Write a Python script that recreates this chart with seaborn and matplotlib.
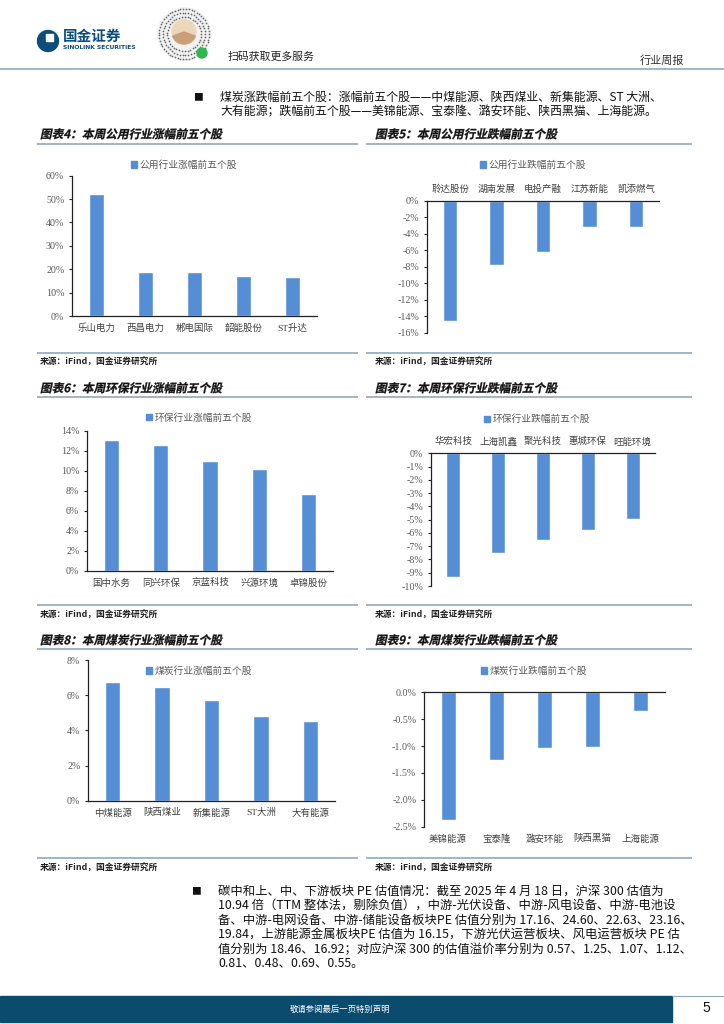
import matplotlib
matplotlib.use("Agg")
import matplotlib.pyplot as plt
from matplotlib.patches import Patch, Rectangle, Circle, Wedge, PathPatch
from matplotlib.textpath import TextPath
from matplotlib.font_manager import FontProperties
from matplotlib.transforms import Affine2D
import numpy as np
import pandas as pd
import seaborn as sns

W, H = 724, 1024
BAR = "#558ED5"
RULE = "#8FA9BC"
CJK = ["Noto Sans CJK SC", "DejaVu Sans"]
NUM = ["Liberation Serif", "Noto Sans CJK SC"]

# chart data (percent change of the week)
util_up_names = ["乐山电力", "西昌电力", "郴电国际", "韶能股份", "ST升达"]
util_up_pct = [52.3, 18.8, 18.7, 17.0, 16.8]
util_down_names = ["聆达股份", "湖南发展", "电投产融", "江苏新能", "凯添燃气"]
util_down_pct = [-14.6, -7.8, -6.2, -3.2, -3.2]
env_up_names = ["国中水务", "同兴环保", "京蓝科技", "兴源环境", "卓锦股份"]
env_up_pct = [13.1, 12.6, 11.0, 10.2, 7.7]
env_down_names = ["华宏科技", "上海凯鑫", "聚光科技", "惠城环保", "旺能环境"]
env_down_pct = [-9.35, -7.5, -6.55, -5.75, -4.95]
coal_up_names = ["中煤能源", "陕西煤业", "新集能源", "ST大洲", "大有能源"]
coal_up_pct = [6.77, 6.48, 5.71, 4.82, 4.51]
coal_down_names = ["美锦能源", "宝泰隆", "潞安环能", "陕西黑猫", "上海能源"]
coal_down_pct = [-2.37, -1.26, -1.04, -1.02, -0.34]

util_up_ticks = [0, 10, 20, 30, 40, 50, 60]
util_down_ticks = [0, -2, -4, -6, -8, -10, -12, -14, -16]
env_up_ticks = [0, 2, 4, 6, 8, 10, 12, 14]
env_down_ticks = [0, -1, -2, -3, -4, -5, -6, -7, -8, -9, -10]
coal_up_ticks = [0, 2, 4, 6, 8]
coal_down_ticks = [0.0, -0.5, -1.0, -1.5, -2.0, -2.5]

titles = [
    "图表4：本周公用行业涨幅前五个股", "图表5：本周公用行业跌幅前五个股",
    "图表6：本周环保行业涨幅前五个股", "图表7：本周环保行业跌幅前五个股",
    "图表8：本周煤炭行业涨幅前五个股", "图表9：本周煤炭行业跌幅前五个股",
]
legend_labels = [
    "公用行业涨幅前五个股", "公用行业跌幅前五个股",
    "环保行业涨幅前五个股", "环保行业跌幅前五个股",
    "煤炭行业涨幅前五个股", "煤炭行业跌幅前五个股",
]
source = "来源：iFind，国金证券研究所"

top_lines = [
    "煤炭涨跌幅前五个股：涨幅前五个股——中煤能源、陕西煤业、新集能源、ST 大洲、",
    "大有能源；跌幅前五个股——美锦能源、宝泰隆、潞安环能、陕西黑猫、上海能源。",
]
bottom_lines = [
    "碳中和上、中、下游板块 PE 估值情况：截至 2025 年 4 月 18 日，沪深 300 估值为",
    "10.94 倍（TTM 整体法，剔除负值），中游-光伏设备、中游-风电设备、中游-电池设",
    "备、中游-电网设备、中游-储能设备板块PE 估值分别为 17.16、24.60、22.63、23.16、",
    "19.84，上游能源金属板块PE 估值为 16.15，下游光伏运营板块、风电运营板块 PE 估",
    "值分别为 18.46、16.92；对应沪深 300 的估值溢价率分别为 0.57、1.25、1.07、1.12、",
    "0.81、0.48、0.69、0.55。",
]

sns.set_theme(style="white")
plt.rcParams["font.family"] = CJK
plt.rcParams["axes.unicode_minus"] = False

fig = plt.figure(figsize=(W / 100, H / 100), dpi=100)
fig.patch.set_facecolor("white")

# page layer in pixel coordinates
bg = fig.add_axes([0, 0, 1, 1])
bg.set_xlim(0, W)
bg.set_ylim(H, 0)
bg.axis("off")


def hline(y, x0, x1, color=RULE, lw=1.2):
    bg.plot([x0, x1], [y, y], color=color, lw=lw, solid_capstyle="butt")


def italic_title(x, y, s, size):
    # bold CJK with a slant, like the report's italic headings
    prop = FontProperties(family="Noto Sans CJK SC", weight="bold")
    tp = TextPath((0, 0), s, size=size, prop=prop)
    k = 100 / 72
    tr = Affine2D().skew_deg(12, 0).scale(k, -k).translate(x, y + 0.36 * size * k)
    bg.add_patch(PathPatch(tr.transform_path(tp), facecolor="#111111", edgecolor="#111111",
                           lw=0.2))


# header
bg.add_patch(Circle((48, 41), 10.5, color="#0D4D7A"))
bg.add_patch(Rectangle((46, 34), 7, 7, color="white"))
bg.text(63, 36, "国金证券", fontsize=10.5, fontweight="bold", color="#0D4D7A", va="center")
bg.text(63, 47.5, "SINOLINK SECURITIES", fontsize=4.3, fontweight="bold", color="#0D4D7A",
        va="center", family=["DejaVu Sans"])
bg.add_patch(Circle((184, 34), 27, facecolor="#f2f2f2", edgecolor="none"))
for r in [25, 21, 17]:
    ang = np.linspace(0, 2 * np.pi, int(r * 2.2), endpoint=False)
    bg.scatter(184 + r * np.cos(ang), 34 + r * np.sin(ang), s=1.6, color="#6b6b6b", lw=0)
bg.add_patch(Circle((184, 32), 12, color="#ecd7bd"))
bg.add_patch(Wedge((184, 32), 12, 20, 160, color="#c89f78"))
bg.add_patch(Circle((202, 53), 5, color="#2DB84C"))
bg.text(228, 57, "扫码获取更多服务", fontsize=7.8, color="#222222", va="center")
bg.text(662, 61, "行业周报", fontsize=8, color="#333333", va="center", ha="center")
hline(69, 0, W)

# top paragraph
bg.text(198, 97, "■", fontsize=7, va="center", ha="center", color="#111111")
for i, line in enumerate(top_lines):
    bg.text(220, 97 + 15 * i, line, fontsize=8.6, va="center", color="#111111")

# chart frames: titles, rules, sources
for col, x0, x1, tx in [(0, 37, 358, 40), (1, 366, 692, 375)]:
    for row, (ty, uy, sy, sty) in enumerate([(134, 143.5, 352.7, 362),
                                             (388, 397, 605, 615),
                                             (640, 649, 858, 868)]):
        italic_title(tx, ty, titles[row * 2 + col], 8.4)
        hline(uy, x0, x1)
        hline(sy, x0, x1)
        bg.text(tx, sty, source, fontsize=6.3, fontweight="bold", va="center",
                color="#222222")


def bar_chart(box, names, vals, ticks, fmt, label, legend_xy, label_side):
    left, top, right, bottom = box
    ax = fig.add_axes([left / W, 1 - bottom / H, (right - left) / W, (bottom - top) / H])
    df = pd.DataFrame({"name": names, "pct": vals})
    sns.barplot(data=df, x="name", y="pct", color=BAR, saturation=1, width=0.31,
                ax=ax, errorbar=None)
    ax.set_xlim(-0.5, 4.5)
    ax.set_ylim(min(ticks), max(ticks))
    ax.set_yticks(ticks)
    ax.set_yticklabels([fmt.format(t) for t in ticks], family=NUM, fontsize=7.2,
                       color="#595959")
    ax.set_xlabel("")
    ax.set_ylabel("")
    ax.set_facecolor("none")
    ax.tick_params(axis="y", left=True, direction="out", length=2.5, width=0.8,
                   color="#222222", pad=3)
    negative = max(ticks) == 0 and min(ticks) < 0
    for s in ["right", "top", "bottom"]:
        ax.spines[s].set_visible(False)
    ax.spines["left"].set_color("#222222")
    ax.spines["left"].set_linewidth(0.9)
    base = "top" if negative else "bottom"
    ax.spines[base].set_visible(True)
    ax.spines[base].set_color("#222222")
    ax.spines[base].set_linewidth(0.9)
    if label_side == "top":
        ax.tick_params(axis="x", top=True, labeltop=True, bottom=False, labelbottom=False,
                       length=0, pad=5)
    else:
        ax.tick_params(axis="x", bottom=True, labelbottom=True, length=0, pad=5.5)
    for t in ax.get_xticklabels():
        t.set_fontsize(6.8)
        t.set_color("#404040")
        t.set_family(NUM)
    ax.legend(handles=[Patch(color=BAR, label=label)], loc="center",
              bbox_to_anchor=(legend_xy[0] / W, 1 - legend_xy[1] / H),
              bbox_transform=fig.transFigure, frameon=False, fontsize=7,
              handlelength=0.6, handleheight=0.6, handletextpad=0.3,
              labelcolor="#595959")
    return ax


bar_chart((72, 175.7, 317, 316), util_up_names, util_up_pct, util_up_ticks, "{:.0f}%",
          legend_labels[0], (184, 165), "bottom")
bar_chart((427, 200.7, 659, 333), util_down_names, util_down_pct, util_down_ticks, "{:.0f}%",
          legend_labels[1], (533, 165), "top")
bar_chart((87, 430.7, 333, 570.7), env_up_names, env_up_pct, env_up_ticks, "{:.0f}%",
          legend_labels[2], (199, 417.7), "bottom")
bar_chart((431, 453.3, 655, 586), env_down_names, env_down_pct, env_down_ticks, "{:.0f}%",
          legend_labels[3], (537, 419.3), "top")
bar_chart((88, 660, 335, 800.7), coal_up_names, coal_up_pct, coal_up_ticks, "{:.0f}%",
          legend_labels[4], (199, 671), "bottom")
bar_chart((424, 692.3, 665, 826.7), coal_down_names, coal_down_pct, coal_down_ticks, "{:.1f}%",
          legend_labels[5], (534, 671), "bottom")

# bottom paragraph
bg.text(196, 891, "■", fontsize=7, va="center", ha="center", color="#111111")
for i, line in enumerate(bottom_lines):
    bg.text(218, 891 + 14.6 * i, line, fontsize=8.9, va="center", color="#111111")

# footer
bg.add_patch(Rectangle((0, 996), 672, 26, color="#0B4C6E"))
hline(996, 672, W, lw=0.8)
bg.text(340, 1009, "敬请参阅最后一页特别声明", fontsize=6, color="white", va="center", ha="center")
bg.text(706, 1008, "5", fontsize=10, color="#111111", va="center", ha="center",
        family=["Liberation Sans"])

fig.savefig("out.png", dpi=100)
